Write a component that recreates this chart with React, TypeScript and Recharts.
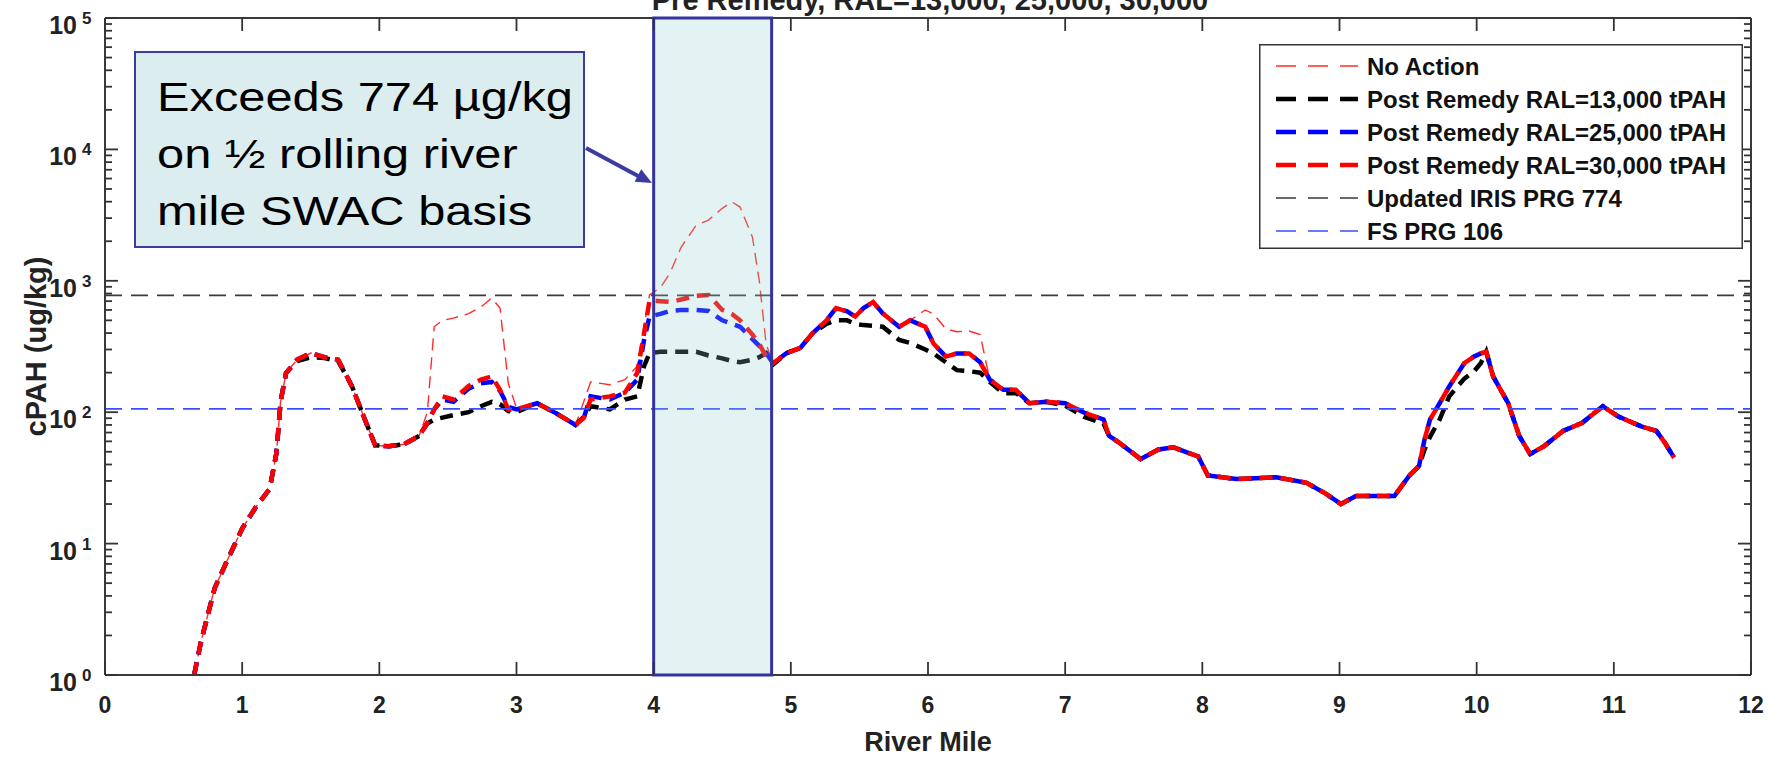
import React from "react";
import { LineChart, Line, XAxis, YAxis, ReferenceLine, ReferenceArea, Legend } from "recharts";

// river mile grid shared by every series
const MILES = [
  0.65, 0.7, 0.8, 0.9, 1.0, 1.1, 1.2, 1.25, 1.28, 1.32,
  1.4, 1.5, 1.6, 1.7, 1.8, 1.9, 1.97, 2.07, 2.18, 2.29,
  2.35, 2.4, 2.46, 2.54, 2.65, 2.74, 2.82, 2.88, 2.94, 3.0,
  3.15, 3.29, 3.43, 3.49, 3.54, 3.68, 3.79, 3.88, 3.93, 3.97,
  4.05, 4.12, 4.2, 4.31, 4.4, 4.5, 4.57, 4.63, 4.72, 4.77,
  4.82, 4.87, 4.97, 5.07, 5.16, 5.26, 5.33, 5.41, 5.47, 5.53,
  5.6, 5.67, 5.79, 5.87, 5.98, 6.04, 6.13, 6.21, 6.3, 6.38,
  6.45, 6.55, 6.64, 6.74, 6.86, 7.0, 7.14, 7.28, 7.32, 7.39,
  7.55, 7.68, 7.79, 7.97, 8.04, 8.25, 8.54, 8.76, 8.9, 9.01,
  9.12, 9.4, 9.51, 9.58, 9.62, 9.66, 9.73, 9.8, 9.91, 9.98,
  10.03, 10.07, 10.12, 10.23, 10.31, 10.39, 10.49, 10.63, 10.77, 10.92,
  11.03, 11.2, 11.31, 11.37, 11.44,
];

const NO_ACTION = [
  1, 1.8, 4.6, 7.8, 13, 19, 26, 49, 120, 199,
  251, 282, 262, 251, 158, 85, 56, 55, 57, 66,
  100, 447, 500, 520, 562, 631, 740, 620, 166, 108,
  117, 98, 80, 120, 170, 162, 177, 224, 450, 780,
  890, 1150, 1800, 2650, 2900, 3560, 3990, 3640, 2150, 1000,
  330, 236, 282, 309, 400, 500, 620, 585, 535, 620,
  690, 565, 447, 500, 600, 560, 430, 410, 415, 390,
  177, 148, 148, 117, 120, 117, 99, 88, 66, 59,
  44, 52, 54, 46, 33, 31, 32, 29, 24, 20,
  23, 23, 33, 39, 62, 88, 117, 157, 236, 265,
  280, 289, 187, 117, 66, 48, 55, 72, 83, 111,
  93, 78, 72, 59, 45,
];

const RAL_13000 = [
  1, 1.8, 4.6, 7.8, 13, 19, 26, 49, 120, 199,
  245, 262, 258, 245, 158, 85, 56, 55, 57, 66,
  82, 88, 91, 95, 100, 111, 120, 115, 102, 100,
  117, 98, 80, 92, 111, 105, 125, 132, 224, 282,
  288, 288, 288, 288, 270, 257, 245, 240, 251, 262,
  282, 230, 282, 309, 400, 470, 500, 500, 470, 460,
  455, 447, 355, 337, 300, 280, 240, 209, 205, 200,
  170, 139, 140, 117, 120, 112, 92, 82, 66, 59,
  44, 52, 54, 46, 33, 31, 32, 29, 24, 20,
  23, 23, 33, 39, 52, 65, 88, 132, 180, 204,
  236, 289, 187, 117, 66, 48, 55, 72, 83, 111,
  93, 78, 72, 59, 45,
];

const RAL_25000 = [
  1, 1.8, 4.6, 7.8, 13, 19, 26, 49, 120, 199,
  251, 282, 262, 251, 158, 85, 56, 55, 57, 66,
  83, 105, 125, 120, 151, 166, 170, 145, 110, 105,
  117, 98, 80, 90, 132, 125, 141, 177, 355, 535,
  560, 590, 600, 600, 590, 500, 470, 447, 360, 320,
  282, 236, 282, 309, 400, 500, 620, 585, 535, 620,
  690, 565, 447, 500, 447, 333, 265, 280, 280, 240,
  177, 148, 148, 117, 120, 117, 99, 88, 66, 59,
  44, 52, 54, 46, 33, 31, 32, 29, 24, 20,
  23, 23, 33, 39, 62, 88, 117, 157, 236, 265,
  280, 289, 187, 117, 66, 48, 55, 72, 83, 111,
  93, 78, 72, 59, 45,
];

const RAL_30000 = [
  1, 1.8, 4.6, 7.8, 13, 19, 26, 49, 120, 199,
  251, 282, 262, 251, 158, 85, 56, 55, 57, 66,
  83, 105, 132, 125, 158, 177, 187, 148, 105, 105,
  117, 98, 80, 90, 125, 132, 141, 199, 398, 710,
  700, 690, 720, 770, 780, 600, 560, 500, 390, 330,
  265, 236, 282, 309, 400, 500, 620, 585, 535, 620,
  690, 565, 447, 500, 447, 333, 265, 280, 280, 240,
  177, 148, 148, 117, 120, 117, 99, 88, 66, 59,
  44, 52, 54, 46, 33, 31, 32, 29, 24, 20,
  23, 23, 33, 39, 62, 88, 117, 157, 236, 265,
  280, 289, 187, 117, 66, 48, 55, 72, 83, 111,
  93, 78, 72, 59, 45,
];

const IRIS_PRG = 774;
const FS_PRG = 106;
const EXCEED_FROM = 4;
const EXCEED_TO = 4.86;

const X_TICKS = [0, 1, 2, 3, 4, 5, 6, 7, 8, 9, 10, 11, 12];
const Y_DECADES = [1, 10, 100, 1000, 10000, 100000];
const MINOR_STEPS = [2, 3, 4, 5, 6, 7, 8, 9];

const TITLE = "Pre Remedy, RAL=13,000, 25,000, 30,000";
const NOTE_LINES = ["Exceeds 774 µg/kg", "on ½ rolling river", "mile SWAC basis"];

const FONT = '"Liberation Sans", Arial, Helvetica, sans-serif';
const AXIS = "#3a3a3a";
const TICK = "#333";

// chart layout
const W = 1785;
const H = 758;
const MARGIN = { top: 17, right: 33, bottom: 0, left: 10 };
const Y_AXIS_W = 95;
const X_AXIS_H = 83;
const FRAME = 1;
const PLOT_W = W - MARGIN.left - MARGIN.right - Y_AXIS_W - FRAME;
const PLOT_H = H - MARGIN.top - MARGIN.bottom - X_AXIS_H - FRAME;

const SERIES = [
  { key: "noAction", name: "No Action", color: "#ff2b2b", width: 1.4, dash: "12 7" },
  { key: "ral13", name: "Post Remedy RAL=13,000 tPAH", color: "#000000", width: 4.5, dash: "13 8" },
  { key: "ral25", name: "Post Remedy RAL=25,000 tPAH", color: "#0000ff", width: 4.5, dash: "13 8" },
  { key: "ral30", name: "Post Remedy RAL=30,000 tPAH", color: "#ff0000", width: 4.5, dash: "13 8" },
];

const REF_LINES = [
  { y: IRIS_PRG, name: "Updated IRIS PRG 774", color: "#3a3a3a", width: 1.6, dash: "17 9" },
  { y: FS_PRG, name: "FS PRG 106", color: "#3b4cff", width: 1.6, dash: "17 9" },
];

const rows = MILES.map((mile, i) => ({
  mile,
  noAction: NO_ACTION[i],
  ral13: RAL_13000[i],
  ral25: RAL_25000[i],
  ral30: RAL_30000[i],
}));

const yTicks = Y_DECADES.flatMap((d, i) =>
  i < Y_DECADES.length - 1 ? [d, ...MINOR_STEPS.map((s) => s * d)] : [d]
);

const isDecade = (v: number) => Y_DECADES.includes(v);

// left ticks also mirror onto the right frame edge
const LeftTick = (props: any) => {
  const { x, y, payload } = props;
  const v = payload.value;
  const major = isDecade(v);
  const len = major ? 13 : 7;
  const xr = x + PLOT_W;
  return (
    <g>
      <line x1={x} x2={x + len} y1={y} y2={y} stroke={TICK} strokeWidth={1.8} />
      <line x1={xr} x2={xr - len} y1={y} y2={y} stroke={TICK} strokeWidth={1.8} />
      {major && (
        <text x={x - 28} y={y + 16} textAnchor="end" fontSize={25} fontWeight="bold" fill="#222" fontFamily={FONT}>
          10
        </text>
      )}
      {major && (
        <text x={x - 23} y={y + 6} fontSize={17} fontWeight="bold" fill="#222" fontFamily={FONT}>
          {Math.round(Math.log10(v))}
        </text>
      )}
    </g>
  );
};

// bottom ticks also mirror onto the top frame edge
const BottomTick = (props: any) => {
  const { x, y, payload } = props;
  const yt = y - PLOT_H;
  return (
    <g>
      <line x1={x} x2={x} y1={y} y2={y - 13} stroke={TICK} strokeWidth={1.8} />
      <line x1={x} x2={x} y1={yt} y2={yt + 13} stroke={TICK} strokeWidth={1.8} />
      <text x={x} y={y + 38} textAnchor="middle" fontSize={23} fontWeight="bold" fill="#222" fontFamily={FONT}>
        {payload.value}
      </text>
    </g>
  );
};

const LegendBox = () => {
  const items = [...SERIES, ...REF_LINES];
  return (
    <svg width={484} height={205} style={{ display: "block" }}>
      <rect x={0.75} y={0.75} width={482.5} height={203.5} fill="#fff" stroke="#333" strokeWidth={1.5} />
      {items.map((s, i) => {
        const cy = 22 + i * 33;
        return (
          <g key={s.name}>
            <line x1={17} x2={99} y1={cy} y2={cy} stroke={s.color} strokeWidth={s.width} strokeDasharray="20 12" />
            <text x={108} y={cy + 8.5} fontSize={24} fontWeight="bold" fill="#111" fontFamily={FONT}>
              {s.name}
            </text>
          </g>
        );
      })}
    </svg>
  );
};

export default function App() {
  return (
    <div style={{ position: "absolute", left: 0, top: 0, width: W, height: H, background: "#fff", fontFamily: FONT }}>
      <LineChart width={W} height={H} data={rows} margin={MARGIN}>
        <XAxis
          dataKey="mile"
          type="number"
          domain={[0, 12]}
          ticks={X_TICKS}
          interval={0}
          allowDataOverflow
          height={X_AXIS_H}
          tickSize={0}
          tickMargin={0}
          tickLine={false}
          tick={BottomTick}
          axisLine={{ stroke: AXIS, strokeWidth: 2 }}
          label={{ value: "River Mile", position: "insideBottom", offset: 7, fontSize: 27, fontWeight: "bold", fill: "#222" }}
        />
        <XAxis
          xAxisId="top"
          orientation="top"
          type="number"
          domain={[0, 12]}
          allowDataOverflow
          height={FRAME}
          tick={false}
          tickLine={false}
          axisLine={{ stroke: AXIS, strokeWidth: 2 }}
        />
        <YAxis
          type="number"
          scale="log"
          domain={[1, 100000]}
          ticks={yTicks}
          interval={0}
          allowDataOverflow
          width={Y_AXIS_W}
          tickSize={0}
          tickMargin={0}
          tickLine={false}
          tick={LeftTick}
          axisLine={{ stroke: AXIS, strokeWidth: 2 }}
          label={{
            value: "cPAH (ug/kg)",
            angle: -90,
            position: "insideLeft",
            offset: 26,
            fontSize: 29,
            fontWeight: "bold",
            fill: "#222",
            style: { textAnchor: "middle" },
          }}
        />
        <YAxis
          yAxisId="right"
          orientation="right"
          type="number"
          domain={[1, 100000]}
          allowDataOverflow
          width={FRAME}
          tick={false}
          tickLine={false}
          axisLine={{ stroke: AXIS, strokeWidth: 2 }}
        />
        {SERIES.map((s) => (
          <Line
            key={s.key}
            type="linear"
            dataKey={s.key}
            name={s.name}
            stroke={s.color}
            strokeWidth={s.width}
            strokeDasharray={s.dash}
            dot={false}
            activeDot={false}
            isAnimationActive={false}
          />
        ))}
        {REF_LINES.map((r) => (
          <ReferenceLine
            key={r.name}
            y={r.y}
            stroke={r.color}
            strokeWidth={r.width}
            strokeDasharray={r.dash}
          />
        ))}
        <ReferenceArea
          x1={EXCEED_FROM}
          x2={EXCEED_TO}
          y1={1}
          y2={100000}
          fill="#90cccc"
          fillOpacity={0.25}
          stroke="#34349c"
          strokeWidth={3}
          ifOverflow="visible"
          zIndex={900}
        />
        <Legend
          layout="vertical"
          align="center"
          verticalAlign="middle"
          content={LegendBox}
          wrapperStyle={{ left: 1259, top: 44, width: 484, height: 205 }}
        />
      </LineChart>

      <svg
        width={W}
        height={H}
        style={{ position: "absolute", left: 0, top: 0, pointerEvents: "none" }}
      >
        <text x={930} y={10} textAnchor="middle" fontSize={29} fontWeight="bold" fill="#222" fontFamily={FONT}>
          {TITLE}
        </text>
        <rect x={135} y={52} width={449} height={195} fill="#dcedf0" stroke="#3c3ca0" strokeWidth={2} />
        <g transform="translate(157,0) scale(1.22,1)">
          {NOTE_LINES.map((t, i) => (
            <text key={t} x={0} y={111 + i * 57} fontSize={40} fill="#000" fontFamily={FONT}>
              {t}
            </text>
          ))}
        </g>
        <line x1={586} y1={148} x2={640} y2={177} stroke="#3c3ca0" strokeWidth={4} />
        <polygon points="652,183 634.6,181.7 641.2,169.3" fill="#3c3ca0" />
      </svg>
    </div>
  );
}
